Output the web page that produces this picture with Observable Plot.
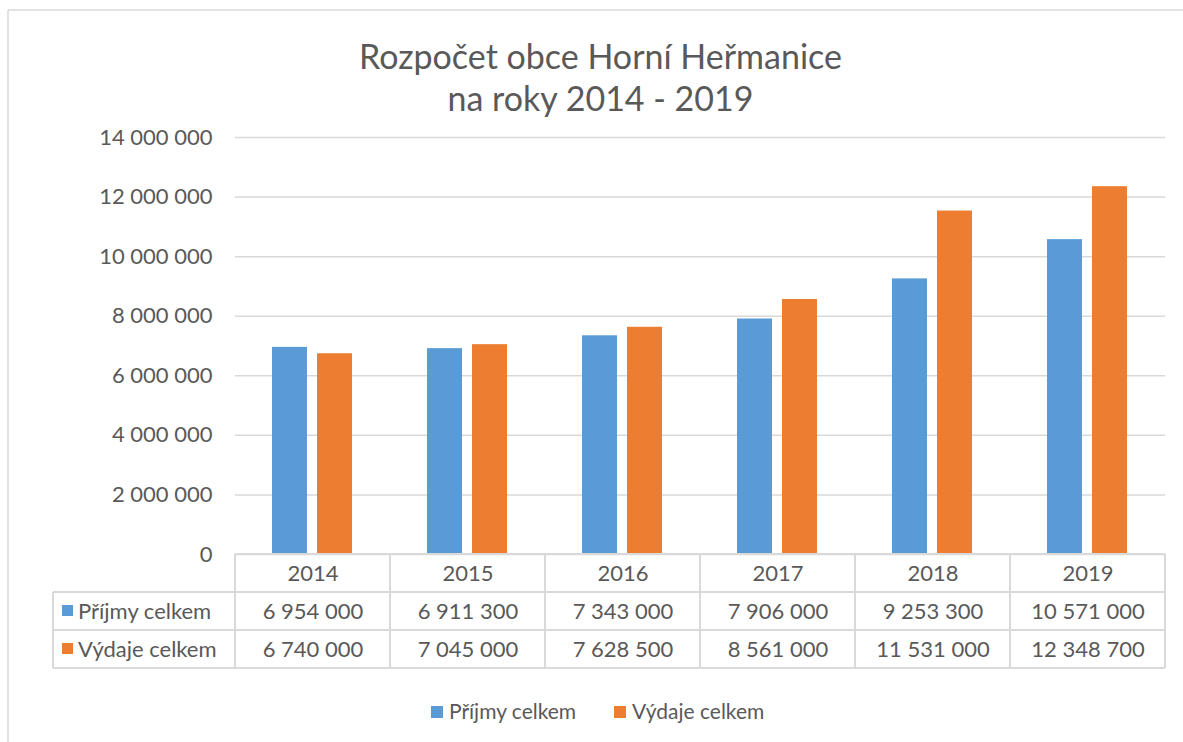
<!DOCTYPE html>
<html>
<head>
<meta charset="utf-8">
<script src="https://cdn.jsdelivr.net/npm/d3@7"></script>
<script src="https://cdn.jsdelivr.net/npm/@observablehq/plot@0.6"></script>
<style>
  html, body { margin: 0; padding: 0; background: #fff; overflow: hidden; }
  #chart svg { display: block; }
</style>
</head>
<body>
<div id="chart"></div>
<script>
// ---- data ----
const titleLines = ["Rozpočet obce Horní Heřmanice", "na roky 2014 - 2019"];
const years = ["2014", "2015", "2016", "2017", "2018", "2019"];
const seriesNames = ["Příjmy celkem", "Výdaje celkem"];
const prijmy = [6954000, 6911300, 7343000, 7906000, 9253300, 10571000];
const vydaje = [6740000, 7045000, 7628500, 8561000, 11531000, 12348700];
const yTicks = [0, 2000000, 4000000, 6000000, 8000000, 10000000, 12000000, 14000000];
const colors = ["#5B9BD5", "#ED7D31"];

// ---- derived ----
const rows = years.map((year, i) => ({year, prijmy: prijmy[i], vydaje: vydaje[i]}));
const fmt = d3.formatLocale({decimal: ",", thousands: " ", grouping: [3], currency: ["", ""]}).format(",");
const textColor = "#595959";
const lineColor = "#D9D9D9";
const ROW = 38;

function decor(index, scales, values, dims) {
  const g = d3.create("svg:g").attr("text-anchor", "start");
  const x = scales.x, y = scales.y;
  const y0 = y(0);
  const left = dims.marginLeft, right = dims.width - dims.marginRight;
  const tableLeft = 53;
  // outer chart border
  g.append("line").attr("x1", 8).attr("x2", dims.width + 5).attr("y1", 10).attr("y2", 10)
    .attr("stroke", lineColor).attr("stroke-width", 1.5);
  g.append("line").attr("x1", 8).attr("x2", 8).attr("y1", 10).attr("y2", dims.height + 5)
    .attr("stroke", lineColor).attr("stroke-width", 1.5);
  // table horizontal lines
  const hl = [[left, y0], [tableLeft, y0 + ROW], [tableLeft, y0 + 2 * ROW], [tableLeft, y0 + 3 * ROW]];
  for (const [x1, yy] of hl) {
    g.append("line").attr("x1", x1).attr("x2", right).attr("y1", yy).attr("y2", yy)
      .attr("stroke", lineColor).attr("stroke-width", 2);
  }
  // vertical lines
  g.append("line").attr("x1", tableLeft).attr("x2", tableLeft).attr("y1", y0 + ROW).attr("y2", y0 + 3 * ROW)
    .attr("stroke", lineColor).attr("stroke-width", 2);
  const edges = years.map(d => x(d)).concat([x(years[years.length - 1]) + x.bandwidth()]);
  for (const ex of edges) {
    g.append("line").attr("x1", ex).attr("x2", ex).attr("y1", y0).attr("y2", y0 + 3 * ROW)
      .attr("stroke", lineColor).attr("stroke-width", 2);
  }
  // row headers
  seriesNames.forEach((name, i) => {
    const cy = y0 + ROW * (i + 1.5);
    g.append("rect").attr("x", 62).attr("y", cy - 6).attr("width", 11).attr("height", 11).attr("fill", colors[i]);
    g.append("text").attr("x", 78).attr("y", cy).attr("dy", "0.35em").attr("fill", textColor)
      .attr("text-anchor", "start").attr("font-size", 22).text(name);
  });
  // legend
  const legX = [431, 614];
  seriesNames.forEach((name, i) => {
    g.append("rect").attr("x", legX[i]).attr("y", 706).attr("width", 12).attr("height", 12).attr("fill", colors[i]);
    g.append("text").attr("x", legX[i] + 18).attr("y", 712).attr("dy", "0.35em").attr("fill", textColor)
      .attr("text-anchor", "start").attr("font-size", 21).text(name);
  });
  return g.node();
}

const chart = Plot.plot({
  width: 1183,
  height: 742,
  marginTop: 137,
  marginBottom: 188,
  marginLeft: 235,
  marginRight: 18,
  style: {fontFamily: "Lato, 'Open Sans', sans-serif", fontSize: "22px", color: textColor, background: "#fff"},
  x: {domain: years, padding: 0, axis: null},
  y: {domain: [0, 14000000], label: null, axis: null},
  marks: [
    Plot.gridY(yTicks, {stroke: lineColor, strokeOpacity: 1, strokeWidth: 1.5}),
    Plot.axisY({ticks: yTicks, tickSize: 0, tickPadding: 23, tickFormat: fmt, fill: textColor, fontSize: 22, label: null}),
    Plot.barY(rows, {x: "year", y: "prijmy", fill: colors[0], insetLeft: 37, insetRight: 83}),
    Plot.barY(rows, {x: "year", y: "vydaje", fill: colors[1], insetLeft: 82, insetRight: 38}),
    decor,
    Plot.text(rows, {x: "year", y: () => 0, dy: ROW * 0.5, text: "year", fill: textColor, fontSize: 22}),
    Plot.text(rows, {x: "year", y: () => 0, dy: ROW * 1.5, text: d => fmt(d.prijmy), fill: textColor, fontSize: 22}),
    Plot.text(rows, {x: "year", y: () => 0, dy: ROW * 2.5, text: d => fmt(d.vydaje), fill: textColor, fontSize: 22}),
    Plot.text([titleLines[0]], {frameAnchor: "top", lineAnchor: "middle", dx: -100, dy: -79, fill: textColor, fontSize: 34}),
    Plot.text([titleLines[1]], {frameAnchor: "top", lineAnchor: "middle", dx: -100, dy: -37, fill: textColor, fontSize: 34})
  ]
});
document.getElementById("chart").appendChild(chart);
</script>
</body>
</html>
